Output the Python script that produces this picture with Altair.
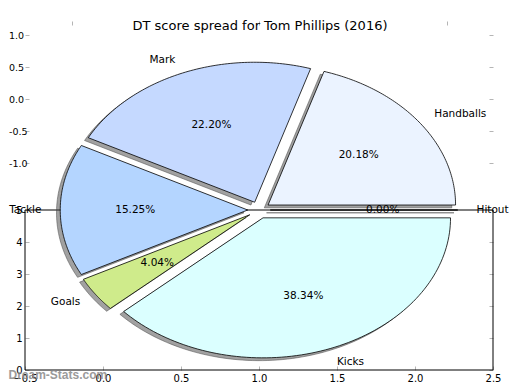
import altair as alt
import pandas as pd

# ---- data ----
labels = ["Hitout", "Handballs", "Mark", "Tackle", "Goals", "Kicks"]
shares = [0.00, 20.18, 22.20, 15.25, 4.04, 38.34]
colors = ["#FFFFFF", "#EBF3FF", "#C5D9FF", "#B4D5FF", "#CFEB8B", "#DBFFFF"]

lower_x_ticks = [-0.5, 0.0, 0.5, 1.0, 1.5, 2.0, 2.5]
lower_y_ticks = [0, 1, 2, 3, 4, 5]
upper_y_ticks = [1.0, 0.5, 0.0, -0.5, -1.0]
pie_x_ticks = [-1.0, 0.0, 1.0]

title_text = "DT score spread for Tom Phillips (2016)"
watermark = "Dream-Stats.com"

# ---- layout ----
W, H = 468, 349
LOW_X = [-0.5, 2.5]
LOW_Y = [0, H / 32.0]
PIE_X = [-1.248, 1.248]
PIE_Y = [-160 / 140.0, 189 / 140.0]
UP_Y = [-271 / 64.0, 78 / 64.0]
EXPLODE = 0.06
SHADOW = 0.02
LABEL_D = 1.1
PCT_D = 0.6
N = 90
FONT = "DejaVu Sans"

pie_df = pd.DataFrame({"label": labels, "share": shares, "color": colors,
                       "idx": list(range(len(labels)))})


def axis_common(**kw):
    base = dict(domain=False, grid=False, ticks=True, tickColor="#b5b5b5",
                tickSize=4, tickWidth=1, offset=-4, labelPadding=3,
                labelFont=FONT, labelFontSize=10, labelColor="black",
                labelFlush=False, labelOverlap=False, title=None)
    base.update(kw)
    return alt.Axis(**base)


def px_(field, axis=None):
    return alt.X(field, type="quantitative",
                 scale=alt.Scale(domain=PIE_X, nice=False, zero=False),
                 axis=axis)


def py_(field):
    return alt.Y(field, type="quantitative",
                 scale=alt.Scale(domain=PIE_Y, nice=False, zero=False),
                 axis=None)


low_xs = alt.Scale(domain=LOW_X, nice=False, zero=False)
low_ys = alt.Scale(domain=LOW_Y, nice=False, zero=False)

# lower axes frame (left, right, bottom, top spines)
frame_df = pd.DataFrame({
    "x": [LOW_X[0], LOW_X[1], LOW_X[0], LOW_X[0]],
    "x2": [LOW_X[0], LOW_X[1], LOW_X[1], LOW_X[1]],
    "y": [lower_y_ticks[0]] * 3 + [lower_y_ticks[-1]],
    "y2": [lower_y_ticks[-1], lower_y_ticks[-1], lower_y_ticks[0], lower_y_ticks[-1]],
})
frame = alt.Chart(frame_df).mark_rule(color="black", strokeWidth=1).encode(
    x=alt.X("x:Q", scale=low_xs,
            axis=axis_common(orient="bottom", values=lower_x_ticks, format=".1f")),
    x2="x2:Q",
    y=alt.Y("y:Q", scale=low_ys,
            axis=axis_common(orient="left", values=lower_y_ticks, format="d")),
    y2="y2:Q",
)

right_low = alt.Chart(pd.DataFrame({"v": lower_y_ticks})).mark_point(opacity=0).encode(
    x=alt.value(0),
    y=alt.Y("v:Q", scale=low_ys,
            axis=axis_common(orient="right", values=lower_y_ticks, labels=False)),
)

up_scale = alt.Scale(domain=UP_Y, nice=False, zero=False)
left_up = alt.Chart(pd.DataFrame({"v": upper_y_ticks})).mark_point(opacity=0).encode(
    x=alt.value(0),
    y=alt.Y("v:Q", scale=up_scale,
            axis=axis_common(orient="left", values=upper_y_ticks, format=".1f",
                             labelAlign="left", labelPadding=16.5,
                             labelFontSize=9.5,
                             labelExpr="replace(datum.label, '\u2212', '-')")),
)
right_up = alt.Chart(pd.DataFrame({"v": upper_y_ticks})).mark_point(opacity=0).encode(
    x=alt.value(0),
    y=alt.Y("v:Q", scale=up_scale,
            axis=axis_common(orient="right", values=upper_y_ticks, labels=False)),
)

# ---- pie geometry from shares ----
pie_base = (
    alt.Chart(pie_df)
    .transform_window(cum="sum(share)", sort=[alt.SortField("idx")], frame=[None, 0])
    .transform_joinaggregate(total="sum(share)")
    .transform_calculate(t1="2*PI*(datum.cum - datum.share)/datum.total")
    .transform_calculate(t2="2*PI*datum.cum/datum.total")
    .transform_calculate(tm="(datum.t1 + datum.t2)/2")
    .transform_calculate(ox=f"{EXPLODE}*cos(datum.tm)")
    .transform_calculate(oy=f"{EXPLODE}*sin(datum.tm)")
)

pts = (
    pie_base.transform_calculate(k=f"sequence(0, {N + 2})")
    .transform_flatten(["k"])
    .transform_calculate(a=f"datum.t1 + (datum.t2 - datum.t1) * (datum.k - 1) / {N}")
    .transform_calculate(wx="datum.k == 0 ? datum.ox : datum.ox + cos(datum.a)")
    .transform_calculate(wy="datum.k == 0 ? datum.oy : datum.oy + sin(datum.a)")
)

shadows = (
    pts.transform_calculate(sx=f"datum.wx - {SHADOW}")
    .transform_calculate(sy=f"datum.wy - {SHADOW}")
    .mark_line(interpolate="linear-closed", fill="#444444", fillOpacity=0.5,
               stroke="#444444", strokeOpacity=0.5, strokeWidth=1)
    .encode(x=px_("sx"), y=py_("sy"), detail="label:N", order="k:Q")
)

wedges = pts.mark_line(interpolate="linear-closed", stroke="black",
                       strokeWidth=0.8).encode(
    x=px_("wx", axis=axis_common(orient="top", values=pie_x_ticks, labels=False)),
    y=py_("wy"),
    fill=alt.Fill("color:N", scale=None),
    detail="label:N",
    order="k:Q",
)

labpos = (
    pie_base.transform_calculate(lx=f"datum.ox + {LABEL_D}*cos(datum.tm)")
    .transform_calculate(ly=f"datum.oy + {LABEL_D}*sin(datum.tm)")
)
lab_left = labpos.transform_filter("datum.lx > 0").mark_text(
    align="left", baseline="middle", font=FONT, fontSize=10.5, color="black"
).encode(x=px_("lx"), y=py_("ly"), text="label:N")
lab_right = labpos.transform_filter("datum.lx <= 0").mark_text(
    align="right", baseline="middle", font=FONT, fontSize=10.5, color="black"
).encode(x=px_("lx"), y=py_("ly"), text="label:N")

pcts = (
    pie_base.transform_calculate(qx=f"datum.ox + {PCT_D}*cos(datum.tm)")
    .transform_calculate(qy=f"datum.oy + {PCT_D}*sin(datum.tm)")
    .transform_calculate(pct="format(100*datum.share/datum.total, '.2f') + '%'")
    .mark_text(align="center", baseline="middle", font=FONT, fontSize=10.5, color="black")
    .encode(x=px_("qx"), y=py_("qy"), text="pct:N")
)

title = alt.Chart(pd.DataFrame({"t": [title_text]})).mark_text(
    align="center", baseline="alphabetic", font=FONT, fontSize=13, color="black"
).encode(x=alt.value(235), y=alt.value(9), text="t:N")

wm = alt.Chart(pd.DataFrame({"t": [watermark]})).mark_text(
    align="left", baseline="alphabetic", font="Liberation Sans", fontSize=12,
    fontWeight="bold", color="#8a8a8a", opacity=0.85
).encode(x=alt.value(-16.5), y=alt.value(357.5), text="t:N")

chart = (
    alt.layer(frame, right_low, left_up, right_up, shadows, wedges,
              lab_left, lab_right, pcts, title, wm)
    .resolve_scale(x="independent", y="independent")
    .properties(width=W, height=H,
                autosize=alt.AutoSizeParams(type="none"),
                padding={"left": 17, "top": 13, "right": 19, "bottom": 12})
    .configure_view(stroke=None)
)

chart.save("out.html", embed_options={"renderer": "svg", "actions": False})
